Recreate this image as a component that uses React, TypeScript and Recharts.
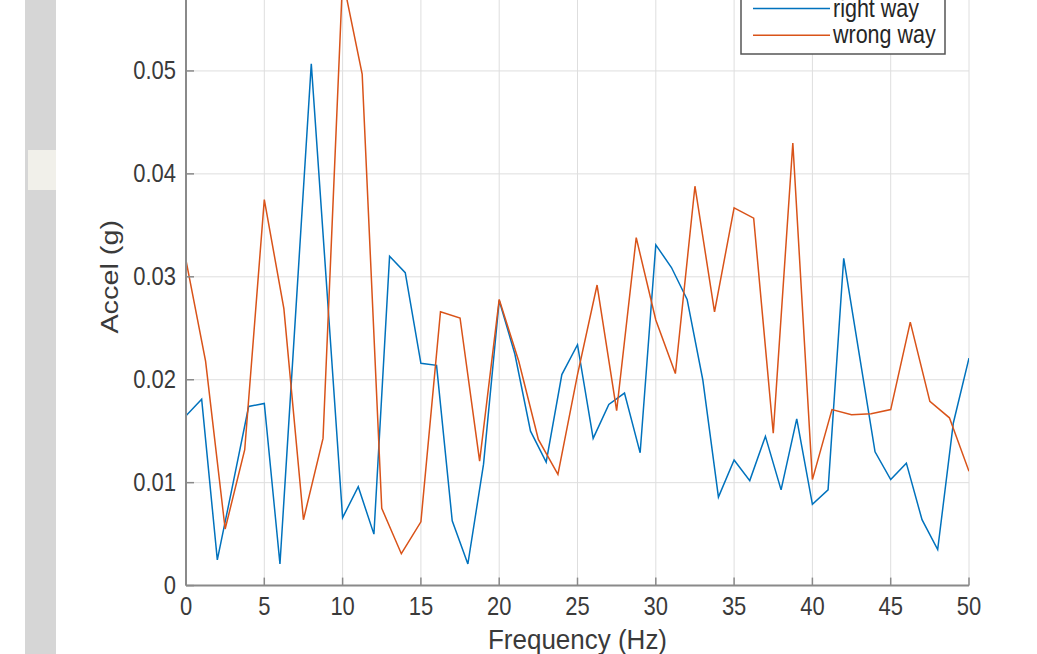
import { CartesianGrid, Line, LineChart, XAxis, YAxis } from 'recharts';

// frequency bins of each measurement (Hz)
const rightFreqs = [
  0, 1, 2, 3, 4, 5, 6, 7, 8, 9, 10, 11, 12, 13, 14, 15, 16, 17, 18, 19, 20, 21, 22, 23, 24, 25,
  26, 27, 28, 29, 30, 31, 32, 33, 34, 35, 36, 37, 38, 39, 40, 41, 42, 43, 44, 45, 46, 47, 48, 49, 50,
];
const rightAccel = [
  0.0165, 0.0181, 0.0025, 0.0099, 0.0174, 0.0177, 0.0021, 0.0264, 0.0507, 0.0287, 0.0066,
  0.0096, 0.005, 0.032, 0.0304, 0.0216, 0.0214, 0.0063, 0.0021, 0.0118, 0.0277,
  0.0225, 0.015, 0.012, 0.0205, 0.0234, 0.0143, 0.0176, 0.0187, 0.0129, 0.0331,
  0.0309, 0.0278, 0.02, 0.0086, 0.0122, 0.0102, 0.0145, 0.0093, 0.0162, 0.0079,
  0.0093, 0.0318, 0.0224, 0.013, 0.0103, 0.0119, 0.0064, 0.0035, 0.0158, 0.0221,
];

const wrongFreqs = [
  0, 1.25, 2.5, 3.75, 5, 6.25, 7.5, 8.75, 10, 11.25, 12.5, 13.75, 15, 16.25, 17.5, 18.75, 20,
  21.25, 22.5, 23.75, 25, 26.25, 27.5, 28.75, 30, 31.25, 32.5, 33.75, 35, 36.25, 37.5, 38.75, 40,
  41.25, 42.5, 43.75, 45, 46.25, 47.5, 48.75, 50,
];
const wrongAccel = [
  0.0316, 0.0218, 0.0055, 0.0132, 0.0375, 0.0269, 0.0064, 0.0143, 0.059, 0.0497, 0.0075,
  0.0031, 0.0062, 0.0266, 0.026, 0.0121, 0.0278, 0.0218, 0.0142, 0.0108, 0.0205,
  0.0292, 0.017, 0.0338, 0.0258, 0.0206, 0.0388, 0.0266, 0.0367, 0.0357, 0.0148,
  0.043, 0.0103, 0.0171, 0.0166, 0.0167, 0.0171, 0.0256, 0.0179, 0.0163, 0.0111,
];

const xTicks = [0, 5, 10, 15, 20, 25, 30, 35, 40, 45, 50];
const yTicks = [0, 0.01, 0.02, 0.03, 0.04, 0.05];

const series = [
  { name: 'right way', color: '#0072BD', data: rightFreqs.map((f, i) => ({ f, v: rightAccel[i] })) },
  { name: 'wrong way', color: '#D95319', data: wrongFreqs.map((f, i) => ({ f, v: wrongAccel[i] })) },
];

const FONT = '"Liberation Sans", Arial, sans-serif';
const TEXT = '#3a3a3a';
const AXIS = '#8a8a8a';
const STRETCH = 1.2; // the picture is a bit taller than wide

const Stretched = ({ x, y, anchor = 'middle', rotate = 0, dy = 0, children, size = 22, stretch = STRETCH }: any) => (
  <text
    transform={`translate(${x},${y}) scale(1,${stretch}) rotate(${rotate})`}
    textAnchor={anchor}
    dy={dy}
    fontSize={size}
    fontFamily={FONT}
    fill={TEXT}
  >
    {children}
  </text>
);

const XTick = ({ x, y, payload }: any) => (
  <g>
    <line x1={x} x2={x} y1={y} y2={y - 8} stroke={AXIS} strokeWidth={1.5} />
    <Stretched x={x} y={y + 29}>{payload.value}</Stretched>
  </g>
);

const YTick = ({ x, y, payload }: any) => (
  <g>
    <line x1={x + 10} x2={x + 18} y1={y} y2={y} stroke={AXIS} strokeWidth={1.5} />
    <Stretched x={x} y={y} dy={7} anchor="end">{payload.value === 0 ? '0' : payload.value.toFixed(2)}</Stretched>
  </g>
);

const RightTick = ({ x, y }: any) => (
  <line x1={x} x2={x - 8} y1={y} y2={y} stroke={AXIS} strokeWidth={1.5} />
);

const YTitle = ({ viewBox }: any) => (
  <Stretched x={110} y={viewBox.y + viewBox.height / 2} rotate={-90} dy={8} size={24}>Accel (g)</Stretched>
);

const XTitle = ({ viewBox }: any) => (
  <Stretched x={viewBox.x + viewBox.width / 2} y={711} size={26} stretch={1.05}>Frequency (Hz)</Stretched>
);

export default function App() {
  return (
    <div style={{ position: 'absolute', left: 0, top: 0, width: 1037, height: 654, overflow: 'hidden', background: '#fff' }}>
      <div style={{ position: 'absolute', left: 25, top: 0, width: 31, height: 654, background: '#d6d6d6' }} />
      <div style={{ position: 'absolute', left: 28, top: 150, width: 28, height: 40, background: '#f1f0ea' }} />
      <div style={{ position: 'absolute', left: 0, top: -62 }}>
        <LineChart width={1037} height={730} margin={{ top: 30, right: 68, bottom: 0, left: 0 }}>
          <CartesianGrid stroke="#dedede" strokeWidth={1} />
          <XAxis
            type="number"
            dataKey="f"
            domain={[0, 50]}
            ticks={xTicks}
            height={82.4}
            tickSize={0}
            tickMargin={0}
            tickLine={false}
            axisLine={{ stroke: AXIS, strokeWidth: 2 }}
            tick={XTick}
            label={{ content: XTitle }}
            allowDataOverflow
          />
          <YAxis
            domain={[0, 0.06]}
            ticks={yTicks}
            width={186}
            tickSize={0}
            tickMargin={10}
            tickLine={false}
            axisLine={{ stroke: AXIS, strokeWidth: 2 }}
            tick={YTick}
            label={{ content: YTitle }}
            allowDataOverflow
          />
          <YAxis
            yAxisId="right"
            orientation="right"
            domain={[0, 0.06]}
            ticks={yTicks}
            width={0}
            tickSize={0}
            tickMargin={0}
            tickLine={false}
            axisLine={{ stroke: AXIS, strokeWidth: 2 }}
            tick={RightTick}
          />
          {series.map((s) => (
            <Line
              key={s.name}
              data={s.data}
              dataKey="v"
              name={s.name}
              type="linear"
              stroke={s.color}
              strokeWidth={1.5}
              dot={false}
              isAnimationActive={false}
            />
          ))}
        </LineChart>
      </div>
      <svg style={{ position: 'absolute', left: 740, top: -10 }} width={206} height={65}>
        <rect x={1} y={1} width={204} height={63} fill="#fff" stroke="#555" strokeWidth={1.5} />
        {series.map((s, i) => (
          <g key={s.name}>
            <line x1={13} x2={90} y1={18.5 + i * 26.7} y2={18.5 + i * 26.7} stroke={s.color} strokeWidth={1.6} />
            <text
              transform={`translate(93,${19.5 + i * 26.7}) scale(1,${STRETCH})`}
              dy={6}
              fontSize={21.5}
              fontFamily={FONT}
              fill="#262626"
            >
              {s.name}
            </text>
          </g>
        ))}
      </svg>
    </div>
  );
}
